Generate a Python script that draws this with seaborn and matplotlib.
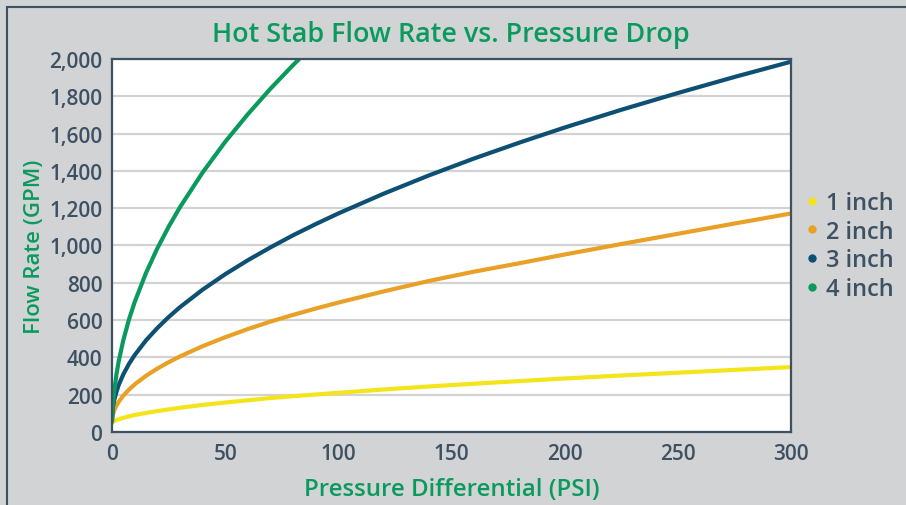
import seaborn as sns
import matplotlib.pyplot as plt
import pandas as pd
from matplotlib.lines import Line2D
from matplotlib.patches import Rectangle

# values (PSI -> GPM)
psi = [0, 0.25, 0.5, 1, 2, 3, 5, 7.5, 10, 15, 20, 25, 30, 40, 50, 60, 70, 80,
       90, 100, 120, 140, 160, 180, 200, 225, 250, 275, 300]

gpm_1in = [48, 52, 55, 58, 64, 68, 76, 84, 91, 102, 112, 121, 130, 145, 158,
           170, 182, 192, 201, 210, 228, 244, 259, 273, 287, 303, 318, 333, 348]
gpm_2in = [50, 82, 96, 115, 142, 162, 195, 227, 255, 301, 340, 374, 405, 460,
           508, 552, 592, 628, 662, 694, 754, 810, 860, 905, 952, 1008, 1063,
           1118, 1172]
gpm_3in = [60, 116, 139, 171, 217, 253, 309, 365, 412, 491, 557, 616, 669, 763,
           846, 921, 990, 1055, 1115, 1172, 1278, 1376, 1467, 1552, 1633, 1728,
           1818, 1904, 1986]
# 4 inch leaves the chart near 82 PSI
psi_4in = [0, 0.25, 0.5, 1, 2, 3, 5, 7.5, 10, 15, 20, 25, 30, 40, 50, 60, 70,
           80, 90]
gpm_4in = [60, 120, 160, 220, 311, 381, 492, 603, 696, 852, 984, 1100, 1205,
           1391, 1556, 1704, 1841, 1968, 2087]

sizes = ["1 inch", "2 inch", "3 inch", "4 inch"]
colors = ["#f4e41c", "#e9a027", "#0d5073", "#0b9a5d"]

frames = []
for s, x, y in zip(sizes, [psi, psi, psi, psi_4in],
                   [gpm_1in, gpm_2in, gpm_3in, gpm_4in]):
    frames.append(pd.DataFrame({"psi": x, "gpm": y, "size": s}))
df = pd.concat(frames)

sns.set_style("white")
plt.rcParams["font.family"] = ["Open Sans", "DejaVu Sans"]

text_col = "#3d5163"
green = "#0b9a5d"
bg = "#d1d3d4"

fig = plt.figure(figsize=(9.06, 5.06), dpi=100, facecolor=bg)
ax = fig.add_axes([0.1236, 0.1443, 0.8734 - 0.1236, 0.8814 - 0.1443])
ax.set_facecolor("white")

sns.lineplot(data=df, x="psi", y="gpm", hue="size", palette=colors,
             linewidth=3, legend=False, ax=ax, sort=False)

ax.set_xlim(0, 300)
ax.set_ylim(0, 2000)
ax.set_xticks(range(0, 301, 50))
ax.set_yticks(range(0, 2001, 200))
ax.set_yticklabels([f"{v:,}" for v in range(0, 2001, 200)])
ax.yaxis.grid(True, color="#d3d3d3", linewidth=1.6)
ax.set_axisbelow(True)
for sp in ax.spines.values():
    sp.set_color(text_col)
    sp.set_linewidth(1.6)
ax.tick_params(axis="y", length=0, labelsize=15, labelcolor=text_col, pad=7)
ax.tick_params(axis="x", length=0, labelsize=15, labelcolor=text_col, pad=8)
for lab in ax.get_xticklabels() + ax.get_yticklabels():
    lab.set_fontweight("semibold")

ax.set_xlabel("Pressure Differential (PSI)", color=green, fontsize=17.3,
              fontweight="semibold", labelpad=9)
ax.set_ylabel("Flow Rate (GPM)", color=green, fontsize=16,
              fontweight="semibold", labelpad=3)
fig.text(0.498, 0.931, "Hot Stab Flow Rate vs. Pressure Drop", color=green,
         fontsize=19.4, fontweight="semibold", ha="center", va="center")

handles = [Line2D([], [], linestyle="none", marker="o", markersize=5,
                  color=c) for c in colors]
leg = fig.legend(handles, sizes, loc="center left", bbox_to_anchor=(0.873, 0.512),
                 frameon=False, fontsize=17, handletextpad=0.1,
                 labelspacing=0.2, handlelength=1.0, borderaxespad=0)
for t in leg.get_texts():
    t.set_color(text_col)
    t.set_fontweight("semibold")

# outer frame
fig.patches.append(Rectangle((0.008, -0.1), 1.2, 0.1 + 0.985, fill=False,
                             edgecolor="#3d5163", linewidth=1.5,
                             transform=fig.transFigure, figure=fig))

fig.savefig("out.png", dpi=100, facecolor=bg)
